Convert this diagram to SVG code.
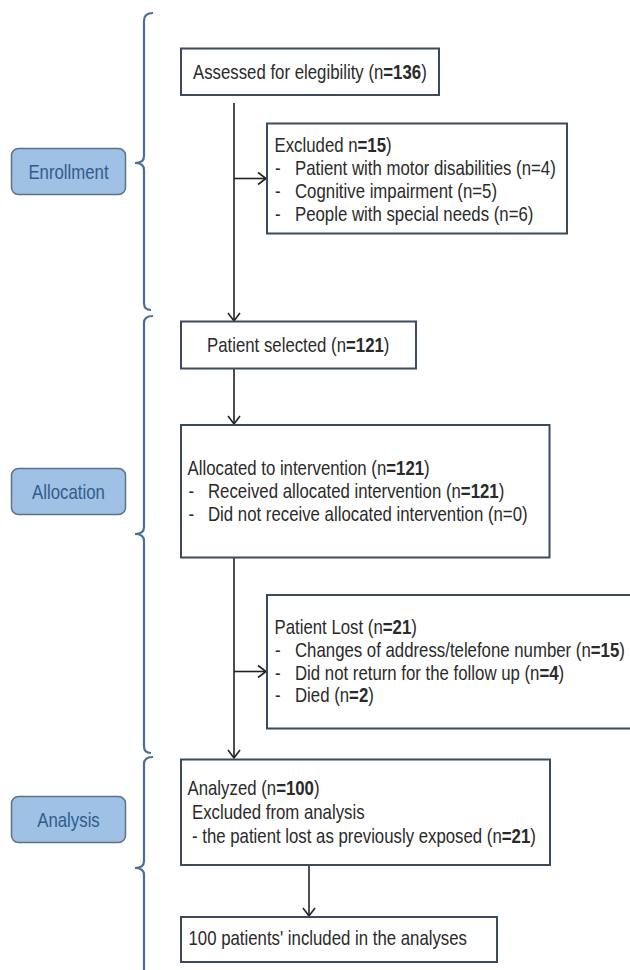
<svg xmlns="http://www.w3.org/2000/svg" width="630" height="970" viewBox="0 0 630 970">
<defs>
<marker id="arr" markerUnits="userSpaceOnUse" markerWidth="16" markerHeight="16" refX="10" refY="8" orient="auto">
<path d="M2,2 L10,8 L2,14" fill="none" stroke="#222" stroke-width="1.6"/>
</marker>
<style>
.box{fill:#fff;stroke:#3c4b5c;stroke-width:2}
.lab{fill:#9fc1e4;stroke:#5d7288;stroke-width:1.5}
.labt{font-family:"Liberation Sans",Arial,sans-serif;font-size:20px;fill:#2f5c8c;text-anchor:middle}
.t{font-family:"Liberation Sans",Arial,sans-serif;font-size:20px;fill:#2a2a2a}
.b{font-weight:bold}
.brace{fill:none;stroke:#4a6d92;stroke-width:2.2}
.ln{fill:none;stroke:#222;stroke-width:1.6}
</style>
</defs>
<rect width="630" height="970" fill="#fff"/>

<g id="braces">
<path class="brace" d="M153,13 Q144,13 144,21 V156 Q144,163 135,163 Q144,163 144,170 V303 Q144,310 151,310"/>
<path class="brace" d="M153,316 Q144,316 144,323 V527 Q144,534 135,534 Q144,534 144,541 V746 Q144,753 151,753"/>
<path class="brace" d="M153,757 Q144,757 144,764 V861 Q144,868 135,868 Q144,868 144,875 V975"/>
</g>

<g id="enrollment">
<rect class="lab" x="11.5" y="148.5" width="114" height="46" rx="7"/>
<text class="labt" transform="translate(68.5,178.5) scale(0.84,1)">Enrollment</text>
</g>
<g id="allocation">
<rect class="lab" x="11.5" y="468.5" width="114" height="46" rx="7"/>
<text class="labt" transform="translate(68.5,498.5) scale(0.84,1)">Allocation</text>
</g>
<g id="analysis">
<rect class="lab" x="11.5" y="796.5" width="114" height="46" rx="7"/>
<text class="labt" transform="translate(68.5,826.5) scale(0.84,1)">Analysis</text>
</g>

<g id="connectors">
<path class="ln" d="M234,103 V321" marker-end="url(#arr)"/>
<path class="ln" d="M234,178.5 H266" marker-end="url(#arr)"/>
<path class="ln" d="M234,368 V424" marker-end="url(#arr)"/>
<path class="ln" d="M234,557 V758" marker-end="url(#arr)"/>
<path class="ln" d="M234,671.5 H266" marker-end="url(#arr)"/>
<path class="ln" d="M309,865 V916" marker-end="url(#arr)"/>
</g>

<g id="assessed">
<rect class="box" x="181" y="48.5" width="258" height="46.5"/>
<text class="t" transform="translate(193,79) scale(0.84,1)">Assessed for elegibility (n<tspan class="b">=136</tspan>)</text>
</g>

<g id="excluded">
<rect class="box" x="267" y="123.5" width="300" height="110"/>
<text class="t" transform="translate(274.5,151.5) scale(0.84,1)">Excluded n<tspan class="b">=15</tspan>)</text>
<text class="t" transform="translate(275,175) scale(0.84,1)">-</text><text class="t" transform="translate(295,175) scale(0.84,1)">Patient with motor disabilities (n=4)</text>
<text class="t" transform="translate(275,198) scale(0.84,1)">-</text><text class="t" transform="translate(295,198) scale(0.84,1)">Cognitive impairment (n=5)</text>
<text class="t" transform="translate(275,221) scale(0.84,1)">-</text><text class="t" transform="translate(295,221) scale(0.84,1)">People with special needs (n=6)</text>
</g>

<g id="selected">
<rect class="box" x="181" y="321.5" width="235" height="47"/>
<text class="t" transform="translate(207,351.5) scale(0.84,1)">Patient selected (n<tspan class="b">=121</tspan>)</text>
</g>

<g id="allocated">
<rect class="box" x="181" y="425" width="368.5" height="132.5"/>
<text class="t" transform="translate(187.5,475) scale(0.84,1)">Allocated to intervention (n<tspan class="b">=121</tspan>)</text>
<text class="t" transform="translate(188.5,498) scale(0.84,1)">-</text><text class="t" transform="translate(208,498) scale(0.84,1)">Received allocated intervention (n<tspan class="b">=121</tspan>)</text>
<text class="t" transform="translate(188.5,521) scale(0.84,1)">-</text><text class="t" transform="translate(208,521) scale(0.84,1)">Did not receive allocated intervention (n=0)</text>
</g>

<g id="lost">
<rect class="box" x="267" y="595" width="380" height="133.5"/>
<text class="t" transform="translate(274.5,634) scale(0.84,1)">Patient Lost (n<tspan class="b">=21</tspan>)</text>
<text class="t" transform="translate(275,657) scale(0.84,1)">-</text><text class="t" transform="translate(295,657) scale(0.84,1)">Changes of address/telefone number (n<tspan class="b">=15</tspan>)</text>
<text class="t" transform="translate(275,679.5) scale(0.84,1)">-</text><text class="t" transform="translate(295,679.5) scale(0.84,1)">Did not return for the follow up (n<tspan class="b">=4</tspan>)</text>
<text class="t" transform="translate(275,702) scale(0.84,1)">-</text><text class="t" transform="translate(295,702) scale(0.84,1)">Died (n<tspan class="b">=2</tspan>)</text>
</g>

<g id="analyzed">
<rect class="box" x="181" y="759.5" width="369" height="105.5"/>
<text class="t" transform="translate(187.5,795) scale(0.84,1)">Analyzed (n<tspan class="b">=100</tspan>)</text>
<text class="t" transform="translate(192,818.5) scale(0.84,1)">Excluded from analysis</text>
<text class="t" transform="translate(192,842.5) scale(0.84,1)">- the patient lost as previously exposed (n<tspan class="b">=21</tspan>)</text>
</g>

<g id="included">
<rect class="box" x="181" y="917" width="316" height="45"/>
<text class="t" transform="translate(188.5,945) scale(0.84,1)">100 patients' included in the analyses</text>
</g>
</svg>
